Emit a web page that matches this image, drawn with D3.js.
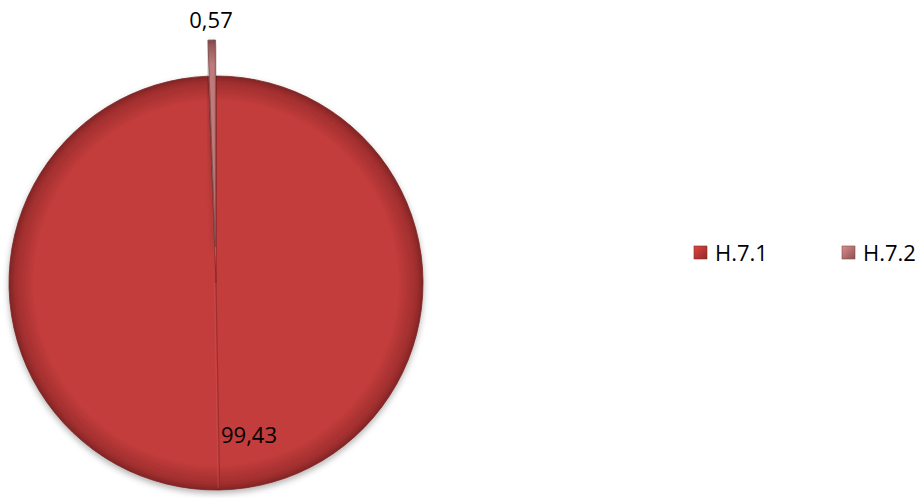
<!DOCTYPE html>
<html><head><meta charset="utf-8">
<script src="https://cdn.jsdelivr.net/npm/d3@7"></script>
<style>body{margin:0;background:#fff}svg{display:block}text{font-family:"Open Sans",sans-serif}</style>
</head><body>
<svg id="c" width="922" height="498"></svg>
<script>
const categories = ["H.7.1", "H.7.2"];
const values = [99.43, 0.57];
const labels = ["99,43", "0,57"];
const colors = ["#c23c3b", "#c07a7a"];
const edgeColors = ["#a02e2e", "#9a5a5a"];

const svg = d3.select("#c");
const defs = svg.append("defs");
const cx = 216, cy = 283, R = 207;
categories.forEach((c,i)=>{
  const g = defs.append("radialGradient").attr("id","g"+i).attr("gradientUnits","userSpaceOnUse")
    .attr("cx",0).attr("cy",0).attr("r",R);
  g.append("stop").attr("offset","0%").attr("stop-color",colors[i]);
  g.append("stop").attr("offset","88%").attr("stop-color",colors[i]);
  g.append("stop").attr("offset","97%").attr("stop-color",edgeColors[i]);
  g.append("stop").attr("offset","100%").attr("stop-color",d3.color(edgeColors[i]).darker(0.6));
  const lg = defs.append("linearGradient").attr("id","lg"+i).attr("x1",0).attr("y1",0).attr("x2",1).attr("y2",1);
  lg.append("stop").attr("offset","0%").attr("stop-color",d3.color(colors[i]).brighter(0.4));
  lg.append("stop").attr("offset","100%").attr("stop-color",d3.color(edgeColors[i]).darker(0.3));
});
const shadow = defs.append("filter").attr("id","sh").attr("x","-10%").attr("y","-10%").attr("width","120%").attr("height","125%");
shadow.append("feDropShadow").attr("dx",0).attr("dy",3).attr("stdDeviation",3).attr("flood-color","#000").attr("flood-opacity",0.3);

const pie = d3.pie().sort(null).startAngle(0).endAngle(2*Math.PI)(values);
const arc = d3.arc().innerRadius(0).outerRadius(R);
const explode = [0, 36];
const g = svg.append("g").attr("transform",`translate(${cx},${cy})`);

g.selectAll("path.slice").data(pie).join("path").attr("class","slice")
  .attr("transform",(d,i)=>{const a=(d.startAngle+d.endAngle)/2;return `translate(${Math.sin(a)*explode[i]},${-Math.cos(a)*explode[i]})`;})
  .attr("d",arc).attr("fill",(d,i)=>`url(#g${i})`)
  .attr("stroke",(d,i)=>d3.color(edgeColors[i]).darker(0.8)).attr("stroke-width",0.8)
  .attr("filter","url(#sh)");

// bevel ridge along bisector of big slice
const big = pie[0], bA = (big.startAngle+big.endAngle)/2;
g.append("line").attr("x1",0).attr("y1",0)
  .attr("x2",Math.sin(bA)*(R-2)).attr("y2",-Math.cos(bA)*(R-2))
  .attr("stroke","#8e2a2a").attr("stroke-width",1.2).attr("opacity",0.7);
g.append("line").attr("x1",-1.5).attr("y1",0)
  .attr("x2",Math.sin(bA)*(R-2)-1.5).attr("y2",-Math.cos(bA)*(R-2))
  .attr("stroke","#d85050").attr("stroke-width",1).attr("opacity",0.5);

// data labels
svg.append("text").attr("x",249).attr("y",443).attr("text-anchor","middle").attr("font-size",22).attr("fill","#000").text(labels[0]);
svg.append("text").attr("x",211).attr("y",28).attr("text-anchor","middle").attr("font-size",22).attr("fill","#000").text(labels[1]);

// legend
const lx = d3.scaleOrdinal().domain(categories).range([694, 842]);
const leg = svg.append("g").selectAll("g").data(categories).join("g")
  .attr("transform",d=>`translate(${lx(d)},246)`);
leg.append("rect").attr("width",13).attr("height",13).attr("fill",(d,i)=>`url(#lg${i})`)
  .attr("stroke",(d,i)=>d3.color(edgeColors[i]).darker(0.5)).attr("stroke-width",0.6);
leg.append("text").attr("x",21).attr("y",14.5).attr("font-size",22).attr("fill","#000").text(d=>d);
</script>
</body></html>
